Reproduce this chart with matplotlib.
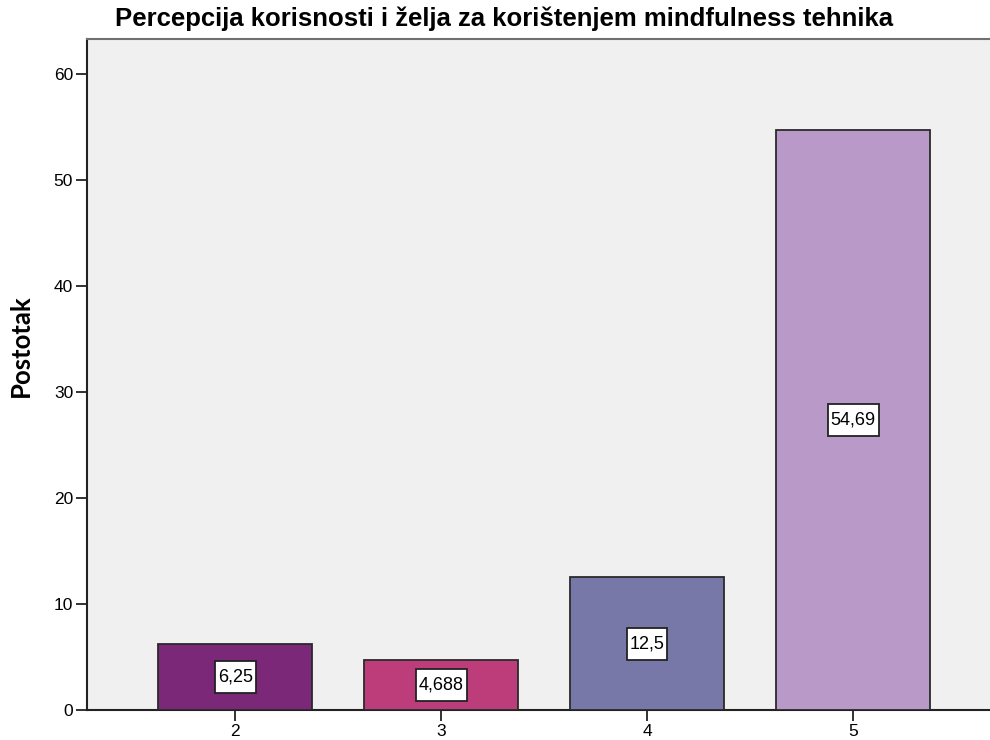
import matplotlib
matplotlib.use("Agg")
import matplotlib.pyplot as plt
from matplotlib.path import Path

categories = ["2", "3", "4", "5"]
values = [6.25, 4.688, 12.5, 54.69]
value_labels = ["6,25", "4,688", "12,5", "54,69"]
colors = ["#7b2878", "#bd3d7a", "#7878a8", "#b899c8"]
yticks = [0, 10, 20, 30, 40, 50, 60]

title = "Percepcija korisnosti i želja za korištenjem mindfulness tehnika"
ylabel = "Postotak"


def tallbox(x0, y0, width, height, mutation_size):
    px = 0.16 * mutation_size
    py = 0.42 * mutation_size
    verts = [(x0 - px, y0 - py), (x0 + width + px, y0 - py),
             (x0 + width + px, y0 + height + py), (x0 - px, y0 + height + py),
             (x0 - px, y0 - py)]
    return Path(verts, closed=True)


fig = plt.figure(figsize=(9.9, 7.4), dpi=100)
ax = fig.add_axes([87/990, 30/740, 1 - 87/990, (710-39)/740])
ax.set_facecolor("#f0f0f0")

x = list(range(len(categories)))
ax.bar(x, values, width=0.75, color=colors, edgecolor="#2a2a2a", linewidth=1.3, zorder=3)
for xi, v, lab in zip(x, values, value_labels):
    ax.text(xi, v/2, lab, ha="center", va="center", fontsize=13,
            family="Liberation Sans", zorder=4,
            bbox=dict(boxstyle=tallbox, facecolor="white", edgecolor="#222222", linewidth=1.3))

ax.set_xlim(-0.72, 3.665)
ax.set_ylim(0, 63.3)
ax.set_xticks(x)
ax.set_xticklabels(categories, fontsize=12.5, family="Liberation Sans")
ax.set_yticks(yticks)
ax.set_yticklabels([str(t) for t in yticks], fontsize=12.5, family="Liberation Sans")
ax.tick_params(axis="both", direction="out", length=8, width=1.3, color="#222222", pad=2)

for s in ["left", "bottom"]:
    ax.spines[s].set_linewidth(1.5)
    ax.spines[s].set_color("#222222")
ax.spines["top"].set_color("#707070")
ax.spines["top"].set_linewidth(1.5)
ax.spines["right"].set_visible(False)

fig.text(21/990, 1 - 346/740, ylabel, rotation=90, ha="center", va="center",
         fontsize=18.5, fontweight="bold", family="Lato")
fig.text(504/990, 1 - 19/740, title, ha="center", va="center",
         fontsize=18.5, fontweight="bold", family="Liberation Sans")

fig.savefig("out.png", dpi=100)
